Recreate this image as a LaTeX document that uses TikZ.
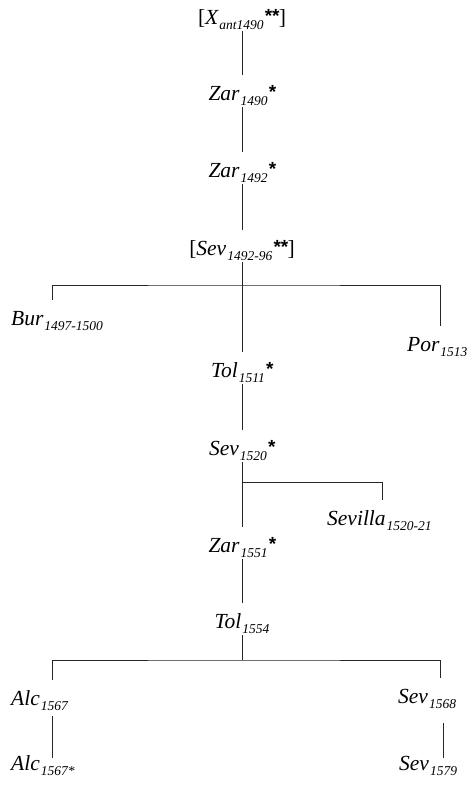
\documentclass[tikz,border=0pt]{standalone}
\usepackage{fontspec}
\setmainfont{Liberation Serif}
\newfontfamily\starfont{Liberation Sans}
% year subscript and editor's asterisk marks
\newcommand{\yr}[1]{\kern1pt\raisebox{-5pt}{\fontsize{13.5}{14}\selectfont\itshape #1}}
\newcommand{\mk}[1]{\kern0.5pt\raisebox{1.5pt}{\starfont\bfseries\fontsize{19}{19}\selectfont #1}}
\newcommand{\br}[1]{{\upshape #1}}

\begin{document}
\begin{tikzpicture}[x=1pt,y=-1pt,
  lbl/.style={font=\fontsize{21.5}{24}\selectfont\itshape, inner xsep=0pt,
              inner ysep=2pt, text height=23pt, text depth=5pt},
  mid/.style={lbl, anchor=base},
  lft/.style={lbl, anchor=base west},
  low/.style={text height=10pt},
  link/.style={line width=1pt, draw=black!85}]

\useasboundingbox[fill=white] (0,0) rectangle (469,785);

% edition nodes
\node[mid] (x0) at (242,24) {\br{[}X\yr{ant1490}\mk{**}\br{]}};
\node[mid] (z1) at (242,100) {Zar\yr{1490}\mk{*}};
\node[mid] (z2) at (242,177) {Zar\yr{1492}\mk{*}};
\node[mid] (s1) at (242,255) {\br{[}Sev\yr{1492-96}\mk{**}\br{]}};
\node[lft] (bur) at (11,325) {Bur\yr{1497-1500}};
\node[lft] (por) at (407,351) {Por\yr{1513}};
\node[mid] (t1) at (242,377) {Tol\yr{1511}\mk{*}};
\node[mid] (s2) at (242,455) {Sev\yr{1520}\mk{*}};
\node[lft] (sevilla) at (327,525) {Sevilla\yr{1520-21}};
\node[mid] (z3) at (242,552) {Zar\yr{1551}\mk{*}};
\node[mid] (t2) at (242,628) {Tol\yr{1554}};
\node[lft] (alc1) at (11,705) {Alc\yr{1567}};
\node[lft, low] (alc2) at (11,770) {Alc\yr{1567*}};
\node[lft] (sev3) at (398,703) {Sev\yr{1568}};
\node[lft, low] (sev4) at (399,770) {Sev\yr{1579}};

% branch points and columns of the side branches
\coordinate (jA) at (242,285);
\coordinate (jB) at (242,482);
\coordinate (jC) at (242,660);
\coordinate (colL) at (52,0);
\coordinate (colR) at (440,0);
\coordinate (colS) at (382,0);
\coordinate (colR2) at (443,0);

% main stem
\draw[link] (x0) -- (z1);
\draw[link] (z1) -- (z2);
\draw[link] (z2) -- (s1);
\draw[link] (s1) -- (t1);
\draw[link] (t1) -- (s2);
\draw[link] (s2) -- (z3);
\draw[link] (z3) -- (t2);
\draw[link] (t2) -- (jC);

% side branches
\draw[link] (bur.north -| colL) |- (jA) -| (por.north -| colR);
\draw[link] (sevilla.north -| colS) |- (jB);
\draw[link] (alc1.north -| colL) |- (jC) -| (sev3.north -| colR);
\draw[link, shorten <=4pt] (alc1.south -| colL) -- (alc2.north -| colL);
\draw[link, shorten <=13pt] (sev3.south -| colR2) -- (sev4.north -| colR2);
\end{tikzpicture}
\end{document}
